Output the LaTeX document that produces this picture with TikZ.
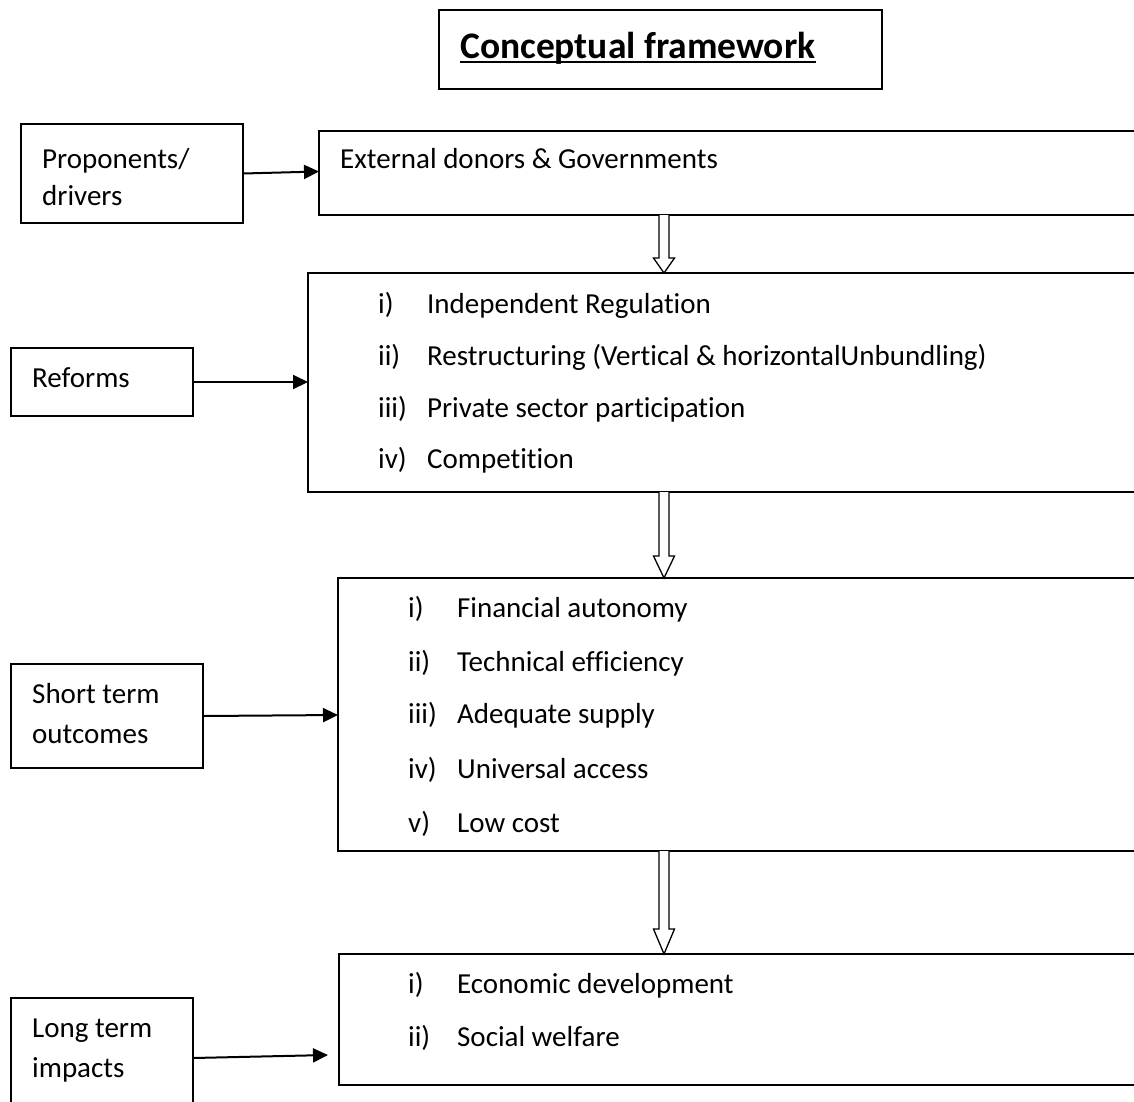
\documentclass[tikz,border=0pt]{standalone}
\usepackage{fontspec}
\setmainfont[Ligatures={NoCommon}]{Carlito}
\usetikzlibrary{arrows.meta,calc}
\begin{document}
\begin{tikzpicture}[x=1pt,y=-1pt,
  box/.style={draw,line width=1.5pt,rectangle,inner sep=0pt,outer sep=0pt,anchor=north west},
  txt/.style={anchor=base west,inner sep=0pt,font=\fontsize{29}{35}\selectfont},
  ttl/.style={anchor=base west,inner sep=0pt,font=\fontsize{37.5}{44}\selectfont\bfseries},
  conn/.style={line width=2pt,-{Triangle[length=15pt,width=14pt]}},
  hollow/.style={draw,line width=1.3pt,fill=white,line join=miter}]
\useasboundingbox (0,0) rectangle (1134,1101);
\clip (0,0) rectangle (1134,1101);
% title
\node[box,minimum width=443pt,minimum height=79pt] (title) at (439,10) {};
\node[ttl] (tt) at (460,58) {Conceptual framework};
\draw[line width=2.5pt] ($(tt.base west)+(0,4)$) -- ($(tt.base east)+(0,4)$);
% main boxes
\node[box,minimum width=830pt,minimum height=84pt] (ext) at (319,131) {};
\node[box,minimum width=840pt,minimum height=219pt] (refbox) at (308,273) {};
\node[box,minimum width=810pt,minimum height=273pt] (sbox) at (338,578) {};
\node[box,minimum width=810pt,minimum height=131pt] (lbox) at (339,954) {};
% label boxes
\node[box,minimum width=222pt,minimum height=99pt] (prop) at (21,124) {};
\node[box,minimum width=182pt,minimum height=68pt] (ref) at (11,348) {};
\node[box,minimum width=192pt,minimum height=104pt] (sl) at (11,664) {};
\node[box,minimum width=182pt,minimum height=120pt] (ll) at (11,998) {};
% label texts
\node[txt] (p1) at (42,168) {Proponents/};
\node[txt] (p2) at (42,205) {drivers};
\node[txt] (r0) at (32,387) {Reforms};
\node[txt] (s1) at (32,703) {Short term};
\node[txt] (s2) at (32,743) {outcomes};
\node[txt] (l1) at (32,1037) {Long term};
\node[txt] (l2) at (32,1077) {impacts};
% box texts
\node[txt] (e1) at (340,168) {External donors \& Governments};
\node[txt] (r1) at (378,313) {\makebox[49pt][l]{i)}Independent Regulation};
\node[txt] (r2) at (378,365) {\makebox[49pt][l]{ii)}Restructuring (Vertical \& horizontalUnbundling)};
\node[txt] (r3) at (378,417) {\makebox[49pt][l]{iii)}Private sector participation};
\node[txt] (r4) at (378,468) {\makebox[49pt][l]{iv)}Competition};
\node[txt] (a1) at (408,617) {\makebox[49pt][l]{i)}Financial autonomy};
\node[txt] (a2) at (408,671) {\makebox[49pt][l]{ii)}Technical efficiency};
\node[txt] (a3) at (408,723) {\makebox[49pt][l]{iii)}Adequate supply};
\node[txt] (a4) at (408,778) {\makebox[49pt][l]{iv)}Universal access};
\node[txt] (a5) at (408,832) {\makebox[49pt][l]{v)}Low cost};
\node[txt] (b1) at (408,993) {\makebox[49pt][l]{i)}Economic development};
\node[txt] (b2) at (408,1046) {\makebox[49pt][l]{ii)}Social welfare};
% connectors
\draw[conn] (prop.east) -- ($(prop.east -| ext.west)+(0,-2)$);
\draw[conn] (ref.east) -- (ref.east -| refbox.west);
\draw[conn] (sl.east) -- ($(sl.east -| sbox.west)+(0,-1)$);
\draw[conn] (ll.east) -- ($(ll.east -| lbox.west)+(-11,-3)$);
% hollow block arrows
\coordinate (hx) at (664,0);
\draw[hollow] ($(hx |- ext.south)+(-5,0)$) -- ($(hx |- refbox.north)+(-5,-15)$) -- ($(hx |- refbox.north)+(-10.5,-15)$) -- (hx |- refbox.north) -- ($(hx |- refbox.north)+(10.5,-15)$) -- ($(hx |- refbox.north)+(5,-15)$) -- ($(hx |- ext.south)+(5,0)$);
\draw[hollow] ($(hx |- refbox.south)+(-5,0)$) -- ($(hx |- sbox.north)+(-5,-22)$) -- ($(hx |- sbox.north)+(-10.5,-22)$) -- (hx |- sbox.north) -- ($(hx |- sbox.north)+(10.5,-22)$) -- ($(hx |- sbox.north)+(5,-22)$) -- ($(hx |- refbox.south)+(5,0)$);
\draw[hollow] ($(hx |- sbox.south)+(-5,0)$) -- ($(hx |- lbox.north)+(-5,-25)$) -- ($(hx |- lbox.north)+(-10.5,-25)$) -- (hx |- lbox.north) -- ($(hx |- lbox.north)+(10.5,-25)$) -- ($(hx |- lbox.north)+(5,-25)$) -- ($(hx |- sbox.south)+(5,0)$);
\end{tikzpicture}
\end{document}
